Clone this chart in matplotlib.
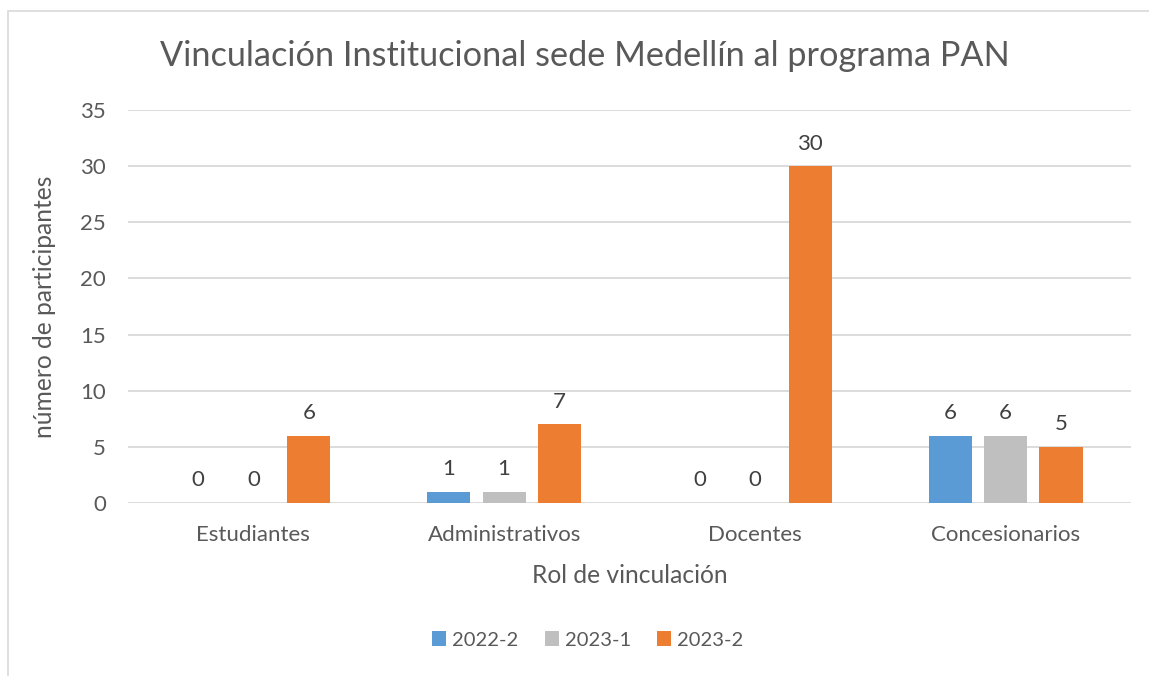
import numpy as np
import matplotlib
matplotlib.use("Agg")
import matplotlib.pyplot as plt
from matplotlib.patches import Rectangle

plt.rcParams["font.family"] = ["Lato", "DejaVu Sans"]

categories = ["Estudiantes", "Administrativos", "Docentes", "Concesionarios"]
series = ["2022-2", "2023-1", "2023-2"]
vals_2022_2 = [0, 1, 0, 6]
vals_2023_1 = [0, 1, 0, 6]
vals_2023_2 = [6, 7, 30, 5]
y_ticks = [0, 5, 10, 15, 20, 25, 30, 35]

colors = ["#5B9BD5", "#BFBFBF", "#ED7D31"]
text_c = "#595959"
grid_c = "#D9D9D9"

W, H = 1149, 676
fig = plt.figure(figsize=(W / 100, H / 100), dpi=100)

# chart border (Excel chart area)
fig.patches.append(Rectangle((8 / W, -0.1), 1.2, 1 - 11 / H + 0.1,
                             transform=fig.transFigure, fill=False,
                             edgecolor=grid_c, lw=1.2, clip_on=False))

ax = fig.add_axes([128 / W, (H - 503) / H, (1131 - 128) / W, (503 - 110) / H])

x = np.arange(len(categories))
offs = [-0.221, 0.0, 0.221]
bw = 0.172
for vals, off, c, name in zip([vals_2022_2, vals_2023_1, vals_2023_2], offs, colors, series):
    bars = ax.bar(x + off, vals, width=bw, color=c, label=name, zorder=3)
    for b, v in zip(bars, vals):
        ax.annotate(str(v), (b.get_x() + b.get_width() / 2, v),
                    xytext=(0, 9), textcoords="offset points",
                    ha="center", va="bottom", fontsize=16, color="#404040")

ax.set_xlim(-0.5, len(categories) - 0.5)
ax.set_ylim(0, 35)
ax.set_yticks(y_ticks)
ax.set_xticks(x)
ax.set_xticklabels(categories)
ax.tick_params(length=0, labelsize=16, colors=text_c)
ax.tick_params(axis="y", pad=16)
ax.tick_params(axis="x", pad=15.5)
ax.grid(axis="y", color=grid_c, lw=1.3, zorder=0)
for s in ax.spines.values():
    s.set_visible(False)

ax.set_xlabel("Rol de vinculación", fontsize=17.7, color=text_c, labelpad=14)
ax.set_ylabel("número de participantes", fontsize=17.7, color=text_c, labelpad=17)

fig.text(585 / W, 1 - 56 / H, "Vinculación Institucional sede Medellín al programa PAN",
         ha="center", va="center", fontsize=24.7, color=text_c)

fig.legend(loc="center", bbox_to_anchor=(588 / W, 1 - 640 / H), ncol=3,
           frameon=False, fontsize=14.5, labelcolor=text_c,
           handlelength=0.7, handleheight=0.7, handletextpad=0.3, columnspacing=1.3)

fig.savefig("out.png", dpi=100)
